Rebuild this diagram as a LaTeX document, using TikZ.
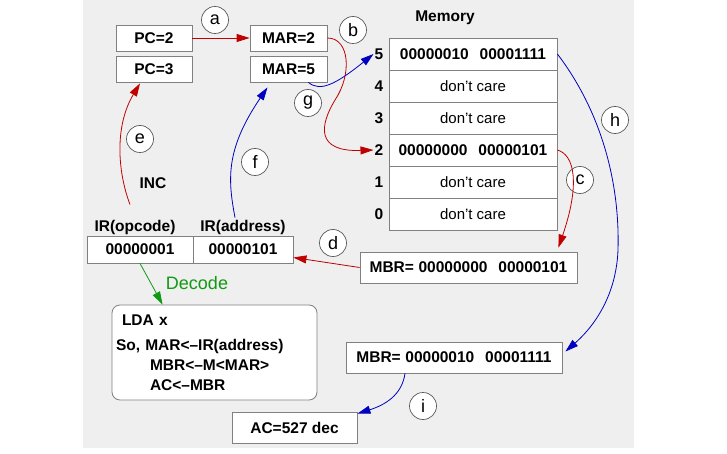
\documentclass[tikz,border=0pt]{standalone}
\usepackage{fontspec}
\setmainfont{Liberation Sans}
\usetikzlibrary{arrows.meta}

\definecolor{bggray}{HTML}{EFEFEF}
\definecolor{framegray}{HTML}{808080}
\definecolor{busred}{HTML}{C00000}
\definecolor{busblue}{HTML}{0000C0}
\definecolor{decgreen}{HTML}{119911}

\tikzset{
  reg/.style={draw=framegray, fill=white, line width=.8pt, inner sep=0pt,
    font=\fontsize{15.5}{19}\selectfont\bfseries},
  tag/.style={circle, draw=framegray!70!black, fill=white, line width=.7pt,
    minimum size=27pt, inner sep=0pt, font=\fontsize{18}{20}\selectfont},
  bold/.style={inner sep=1pt, font=\fontsize{15.5}{19}\selectfont\bfseries},
  tip/.style={-{Triangle[length=13pt,width=8pt]}},
  redbus/.style={draw=busred, line width=.8pt, tip},
  bluebus/.style={draw=busblue, line width=.8pt, tip},
}

\begin{document}
\begin{tikzpicture}[x=1pt,y=-1pt]

\useasboundingbox (0,0) rectangle (727,454);
\fill[bggray] (83,0) rectangle (634,448);

% registers
\node[reg, minimum width=76pt, minimum height=26pt] (pc2) at (154,38) {PC=2};
\node[reg, minimum width=76pt, minimum height=26pt] (pc3) at (154,69) {PC=3};
\node[reg, minimum width=77pt, minimum height=26pt] (mar2) at (288.5,38) {MAR=2};
\node[reg, minimum width=77pt, minimum height=26pt] (mar5) at (288.5,69) {MAR=5};

% memory
\node[bold] (memtitle) at (445,18) {Memory};
\foreach \r/\txt in {5/{\bfseries 00000010\hspace{.7em}00001111},
                     4/{\mdseries\fontsize{15}{18}\selectfont don't care},
                     3/{\mdseries\fontsize{15}{18}\selectfont don't care},
                     2/{\bfseries 00000000\hspace{.7em}00000101},
                     1/{\mdseries\fontsize{15}{18}\selectfont don't care},
                     0/{\mdseries\fontsize{15}{18}\selectfont don't care}}{
  \node[reg, minimum width=168pt, minimum height=32pt] (cell\r) at (473,{54+(5-\r)*32}) {\txt};
  \node[bold] (lab\r) at (379,{54+(5-\r)*32}) {\r};
}

% instruction register
\node[bold] (opLbl) at (135,227) {IR(opcode)};
\node[bold] (addrLbl) at (243,227) {IR(address)};
\node[reg, minimum width=106pt, minimum height=27pt] (irOp) at (140,249.5) {00000001};
\node[reg, minimum width=100pt, minimum height=27pt] (irAddr) at (243,249.5) {00000101};
\node[bold] (inc) at (153,183) {INC};

\node[reg, minimum width=217pt, minimum height=31pt] (mbr1) at (468.5,267.5) {MBR=\hspace{.3em}00000000\hspace{.7em}00000101};
\node[reg, minimum width=216pt, minimum height=31pt] (mbr2) at (454,357.5) {MBR=\hspace{.3em}00000010\hspace{.7em}00001111};
\node[reg, minimum width=125pt, minimum height=31pt] (ac) at (294.5,427.5) {AC=527 dec};

\node[reg, rounded corners=8pt, minimum width=205pt, minimum height=95pt,
  text width=197pt, inner xsep=4pt, align=left,
  font=\fontsize{15.5}{20}\selectfont\bfseries] (lda) at (214.5,352.5)
  {\hspace*{6pt}LDA x\\[5pt]
   So, MAR<--IR(address)\\
   \hspace*{34pt}MBR<--M<MAR>\\
   \hspace*{34pt}AC<--MBR};

\node[text=decgreen, font=\fontsize{18}{20}\selectfont] (decode) at (197,283) {Decode};

% steps
\node[tag] (a) at (215,20) {a};
\node[tag] (b) at (353,30) {b};
\node[tag] (c) at (580,180) {c};
\node[tag] (d) at (333,243) {d};
\node[tag] (e) at (140,139) {e};
\node[tag] (f) at (255,162) {f};
\node[tag] (g) at (308,103) {g};
\node[tag] (h) at (615,120) {h};
\node[tag] (i) at (423,406) {i};

% data paths
\draw[redbus] (pc2.east) -- (mar2.west);
\draw[redbus] (mar2.east) .. controls (350,38) and (352,75) .. (335,100)
  .. controls (320,125) and (315,152) .. (lab2.west);
\draw[redbus] (cell2.east) .. controls (575,155) and (580,185) .. ([xshift=-19pt,yshift=4pt]mbr1.north east);
\draw[redbus] (mbr1.west) -- ([yshift=-8pt]irAddr.east);
\draw[redbus] ([xshift=-5pt,yshift=14pt]opLbl.north) .. controls (117,170) and (115,125) .. ([xshift=-14pt,yshift=-1pt]pc3.south);
\draw[bluebus] ([xshift=-8pt,yshift=1pt]addrLbl.north) .. controls (228,180) and (225,150) .. ([xshift=-21pt,yshift=-5pt]mar5.south);
\draw[bluebus] ([xshift=-19pt]mar5.south east) .. controls (320,92) and (335,85) .. (lab5.west);
\draw[bluebus] (cell5.east) .. controls (600,110) and (620,180) .. (618,250)
  .. controls (616,300) and (590,330) .. ([xshift=3pt,yshift=6pt]mbr2.east);
\draw[bluebus] ([xshift=-49pt]mbr2.south) .. controls (402,395) and (385,405) .. ([yshift=-2pt]ac.north east);
\draw[draw=decgreen, line width=.8pt, tip] (irOp.south) -- ([xshift=51pt]lda.north west);

\end{tikzpicture}
\end{document}
